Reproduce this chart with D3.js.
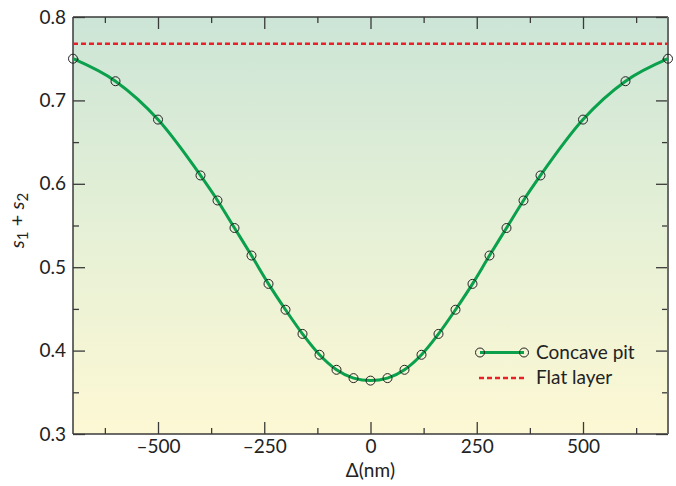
<!DOCTYPE html>
<html>
<head>
<meta charset="utf-8">
<script src="https://cdn.jsdelivr.net/npm/d3@7"></script>
<style>
  html, body { margin: 0; padding: 0; background: #fff; }
  svg { display: block; font-family: Lato, "Open Sans", sans-serif; }
</style>
</head>
<body>
<svg id="chart" width="676" height="486"></svg>
<script>
// Lateral offset Δ (nm) and the summed quantity s1 + s2 for a concave pit
const offsets = [-700, -600, -500, -400, -360, -320, -280, -240, -200, -160, -120, -80, -40,
                 0, 40, 80, 120, 160, 200, 240, 280, 320, 360, 400, 500, 600, 700];
const concavePit = [0.750, 0.723, 0.677, 0.610, 0.580, 0.547, 0.514, 0.480, 0.449, 0.420, 0.395, 0.377, 0.367,
                    0.364, 0.367, 0.377, 0.395, 0.420, 0.449, 0.480, 0.514, 0.547, 0.580, 0.610, 0.677, 0.723, 0.750];
// Reference level for a flat layer
const flatLayer = 0.768;

const xTicks = [-500, -250, 0, 250, 500];
const xMinorTicks = [-625, -375, -125, 125, 375, 625];
const yTicks = [0.3, 0.4, 0.5, 0.6, 0.7, 0.8];
const yMinorTicks = [0.35, 0.45, 0.55, 0.65, 0.75];
const legendLabels = ["Concave pit", "Flat layer"];

const W = 676, H = 486;
const margin = { top: 17, right: 8, bottom: 52, left: 73 };
const iw = W - margin.left - margin.right;
const ih = H - margin.top - margin.bottom;

const svg = d3.select("#chart");
const defs = svg.append("defs");
const grad = defs.append("linearGradient")
  .attr("id", "bg").attr("x1", 0).attr("y1", 0).attr("x2", 0).attr("y2", 1);
grad.append("stop").attr("offset", "0%").attr("stop-color", "#cce5d6");
grad.append("stop").attr("offset", "50%").attr("stop-color", "#e5f0d6");
grad.append("stop").attr("offset", "100%").attr("stop-color", "#fdf8d4");

const g = svg.append("g").attr("transform", `translate(${margin.left},${margin.top})`);

const x = d3.scaleLinear().domain([-700, 700]).range([0, iw]);
const y = d3.scaleLinear().domain([0.3, 0.8]).range([ih, 0]);

g.append("rect").attr("width", iw).attr("height", ih).attr("fill", "url(#bg)");

const fmtX = d => d < 0 ? "\u2013" + Math.abs(d) : String(d);
const fmtY = d3.format(".1f");
const axisColor = "#3a3a3a";

function styleAxis(sel) {
  sel.select(".domain").remove();
  sel.selectAll(".tick line").attr("stroke", axisColor).attr("stroke-width", 1.3);
  sel.selectAll(".tick text").attr("fill", "#222").attr("font-size", 19)
    .attr("font-family", "Lato, 'Open Sans', sans-serif");
}

// Bottom axis with labels, inward ticks
g.append("g").attr("transform", `translate(0,${ih})`)
  .call(d3.axisBottom(x).tickValues(xTicks).tickFormat(fmtX).tickSize(-12).tickPadding(6))
  .call(styleAxis);
g.append("g").attr("transform", `translate(0,${ih})`)
  .call(d3.axisBottom(x).tickValues(xMinorTicks).tickFormat("").tickSize(-6))
  .call(styleAxis);
// Top axis ticks
g.append("g")
  .call(d3.axisTop(x).tickValues(xTicks).tickFormat("").tickSize(-12))
  .call(styleAxis);
g.append("g")
  .call(d3.axisTop(x).tickValues(xMinorTicks).tickFormat("").tickSize(-6))
  .call(styleAxis);
// Left axis with labels
g.append("g")
  .call(d3.axisLeft(y).tickValues(yTicks).tickFormat(fmtY).tickSize(-12).tickPadding(7))
  .call(styleAxis);
g.append("g")
  .call(d3.axisLeft(y).tickValues(yMinorTicks).tickFormat("").tickSize(-6))
  .call(styleAxis);
// Right axis ticks
g.append("g").attr("transform", `translate(${iw},0)`)
  .call(d3.axisRight(y).tickValues(yTicks).tickFormat("").tickSize(-12))
  .call(styleAxis);
g.append("g").attr("transform", `translate(${iw},0)`)
  .call(d3.axisRight(y).tickValues(yMinorTicks).tickFormat("").tickSize(-6))
  .call(styleAxis);

// Frame lines
g.append("line").attr("x1", 0).attr("x2", 0).attr("y1", 0).attr("y2", ih)
  .attr("stroke", axisColor).attr("stroke-width", 1.5);
g.append("line").attr("x1", 0).attr("x2", iw).attr("y1", ih).attr("y2", ih)
  .attr("stroke", axisColor).attr("stroke-width", 1.5);
g.append("line").attr("x1", 0).attr("x2", iw).attr("y1", 0).attr("y2", 0)
  .attr("stroke", axisColor).attr("stroke-width", 1.3);
g.append("line").attr("x1", iw).attr("x2", iw).attr("y1", 0).attr("y2", ih)
  .attr("stroke", "#6a6a6a").attr("stroke-width", 2);

// Flat layer reference
g.append("line")
  .attr("x1", 0).attr("x2", iw).attr("y1", y(flatLayer)).attr("y2", y(flatLayer))
  .attr("stroke", "#e8202a").attr("stroke-width", 2.5).attr("stroke-dasharray", "5,3");

// Concave pit curve
const pts = offsets.map((d, i) => [d, concavePit[i]]);
g.append("path").datum(pts)
  .attr("fill", "none").attr("stroke", "#0aa04c").attr("stroke-width", 3)
  .attr("d", d3.line().x(d => x(d[0])).y(d => y(d[1])).curve(d3.curveMonotoneX));
g.selectAll("circle.pt").data(pts).join("circle").attr("class", "pt")
  .attr("cx", d => x(d[0])).attr("cy", d => y(d[1])).attr("r", 4.5)
  .attr("fill", "none").attr("stroke", "#222").attr("stroke-width", 1);

// Legend
const lg = svg.append("g");
lg.append("line").attr("x1", 480).attr("x2", 524).attr("y1", 352.5).attr("y2", 352.5)
  .attr("stroke", "#0aa04c").attr("stroke-width", 3);
[480, 524].forEach(cx => lg.append("circle").attr("cx", cx).attr("cy", 352.5).attr("r", 4.5)
  .attr("fill", "none").attr("stroke", "#222").attr("stroke-width", 1));
lg.append("line").attr("x1", 479).attr("x2", 524).attr("y1", 378).attr("y2", 378)
  .attr("stroke", "#e8202a").attr("stroke-width", 2.5).attr("stroke-dasharray", "5,3");
lg.selectAll("text").data(legendLabels).join("text")
  .attr("x", 536).attr("y", (d, i) => 352.5 + i * 25).attr("dy", "0.35em")
  .attr("font-size", 19).attr("fill", "#222").text(d => d);

// Axis titles
svg.append("text").attr("x", margin.left + x(0)).attr("y", 477)
  .attr("text-anchor", "middle").attr("font-size", 19).attr("fill", "#222")
  .text("\u0394(nm)");

const yl = svg.append("text")
  .attr("transform", `translate(24,${margin.top + ih / 2 - 5}) rotate(-90)`)
  .attr("text-anchor", "middle").attr("font-size", 20).attr("fill", "#222");
yl.append("tspan").attr("font-style", "italic").text("s");
yl.append("tspan").attr("font-size", 15).attr("dy", 4).text("1");
yl.append("tspan").attr("dy", -4).text(" + ");
yl.append("tspan").attr("font-style", "italic").text("s");
yl.append("tspan").attr("font-size", 15).attr("dy", 4).text("2");
</script>
</body>
</html>
